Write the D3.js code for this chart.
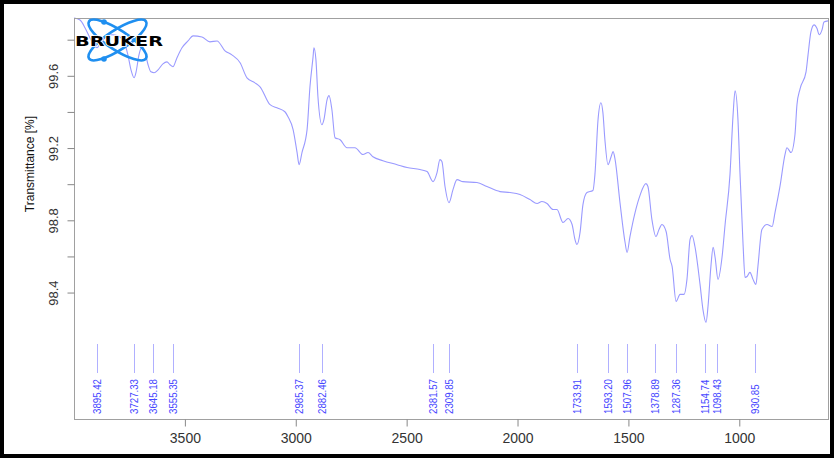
<!DOCTYPE html>
<html>
<head>
<meta charset="utf-8">
<script src="https://cdn.jsdelivr.net/npm/d3@7/dist/d3.min.js"></script>
<style>
  html, body { margin: 0; padding: 0; background: #fff; }
  svg { display: block; }
</style>
</head>
<body>
<svg id="chart" width="835" height="459"></svg>
<script>
// ---- Data ----
const wavenumbers = [4000,3973,3950,3928,3910,3896,3883,3860,3829,3802,3775,3757,3743,3729,3720,3707,3693,3680,3666,3653,3639,3621,3599,3581,3567,3554,3536,3513,3486,3463,3423,3387,3355,3319,3288,3251,3220,3184,3161,3116,3085,3049,3035,3012,2994,2985,2972,2949,2936,2922,2918,2909,2900,2882,2873,2859,2850,2837,2823,2800,2769,2733,2697,2674,2652,2607,2543,2498,2440,2408,2381,2363,2350,2341,2327,2309,2291,2273,2246,2183,2138,2079,2034,1989,1944,1912,1890,1867,1840,1822,1795,1772,1754,1741,1732,1718,1705,1687,1660,1651,1637,1624,1615,1606,1592,1578,1569,1560,1538,1515,1506,1493,1470,1448,1421,1412,1394,1376,1362,1349,1330,1312,1303,1285,1267,1249,1236,1222,1213,1200,1177,1164,1150,1141,1128,1118,1109,1096,1078,1064,1042,1028,1019,1006,997,983,974,965,952,938,925,916,898,875,852,839,816,794,785,767,749,740,726,699,690,677,663,649,640,627,618,600];
const transmittance = [99.920,99.909,99.865,99.810,99.771,99.755,99.777,99.810,99.827,99.821,99.788,99.716,99.633,99.589,99.622,99.716,99.760,99.733,99.661,99.622,99.617,99.633,99.666,99.677,99.661,99.650,99.699,99.755,99.793,99.821,99.815,99.788,99.793,99.738,99.716,99.672,99.589,99.561,99.539,99.440,99.423,99.401,99.373,99.302,99.175,99.108,99.175,99.302,99.539,99.705,99.755,99.688,99.484,99.329,99.357,99.467,99.490,99.412,99.257,99.246,99.202,99.202,99.164,99.175,99.152,99.130,99.108,99.092,99.081,99.070,99.014,99.064,99.136,99.125,98.987,98.898,98.970,99.025,99.014,99.009,98.987,98.959,98.954,98.943,98.915,98.893,98.904,98.893,98.860,98.860,98.788,98.810,98.777,98.694,98.666,98.733,98.887,98.954,98.965,99.053,99.357,99.451,99.396,99.246,99.108,99.152,99.180,99.136,98.898,98.677,98.622,98.710,98.843,98.937,99.003,98.987,98.804,98.710,98.749,98.777,98.738,98.583,98.545,98.351,98.390,98.390,98.473,98.694,98.716,98.655,98.445,98.307,98.235,98.324,98.545,98.650,98.594,98.473,98.594,98.777,99.053,99.385,99.517,99.357,99.064,98.666,98.484,98.489,98.512,98.473,98.445,98.545,98.749,98.777,98.766,98.843,98.992,99.164,99.202,99.175,99.274,99.440,99.528,99.622,99.716,99.843,99.882,99.860,99.827,99.854,99.898,99.904];
const peakLabels = [3895.42,3727.33,3645.18,3555.35,2985.37,2882.46,2381.57,2309.85,1733.91,1593.20,1507.96,1378.89,1287.36,1154.74,1098.43,930.85];
const xTicks = [3500,3000,2500,2000,1500,1000];
const yTicks = [99.8,99.6,99.4,99.2,99.0,98.8,98.6,98.4];
const yLabeled = [99.6,99.2,98.8,98.4];

// ---- Layout ----
const svg = d3.select("#chart");
const L = 74, T = 18, R = 828, B = 419;

const x = d3.scaleLinear().domain([4000, 600]).range([L, R]);
const y = d3.scaleLinear().domain([97.70, 99.92]).range([B, T]);

// outer black frame
svg.append("rect").attr("x", 2).attr("y", 2).attr("width", 830).attr("height", 454)
  .attr("fill", "none").attr("stroke", "#000").attr("stroke-width", 4);

// spectrum line
const data = wavenumbers.map((w, i) => ({ w, t: transmittance[i] }));
const line = d3.line().x(d => x(d.w)).y(d => y(d.t)).curve(d3.curveMonotoneX);
svg.append("path").datum(data).attr("d", line)
  .attr("fill", "none").attr("stroke", "#9a9aff").attr("stroke-width", 1.1);

// peak markers
const peaks = svg.append("g");
peaks.selectAll("line").data(peakLabels).join("line")
  .attr("x1", d => Math.round(x(d)) + 0.5).attr("x2", d => Math.round(x(d)) + 0.5)
  .attr("y1", 344).attr("y2", 373)
  .attr("stroke", "#b0b0ff").attr("stroke-width", 1);
peaks.selectAll("text").data(peakLabels).join("text")
  .attr("transform", d => `translate(${x(d) + 4},414) rotate(-90) scale(0.88,1)`)
  .attr("text-anchor", "start")
  .attr("font-family", "Liberation Sans, Arial, sans-serif")
  .attr("font-size", 11)
  .attr("fill", "#4646ff")
  .text(d => d.toFixed(2));

// plot box
svg.append("rect").attr("x", L + 0.5).attr("y", T + 0.5).attr("width", R - L).attr("height", B - T)
  .attr("fill", "none").attr("stroke", "#a0a0a0").attr("stroke-width", 1);

// x axis
const xAxis = svg.append("g").attr("transform", `translate(0,${B + 0.5})`)
  .call(d3.axisBottom(x).tickValues(xTicks).tickSize(7).tickPadding(7).tickFormat(d3.format("d")));
xAxis.select(".domain").remove();
xAxis.selectAll(".tick line").attr("stroke", "#888");
xAxis.selectAll(".tick text").attr("font-family", "Liberation Sans, Arial, sans-serif")
  .attr("font-size", 14).attr("fill", "#333");

// y axis
const yAxis = svg.append("g").attr("transform", `translate(${L + 0.5},0)`)
  .call(d3.axisLeft(y).tickValues(yTicks).tickSize(7)
    .tickFormat(d => yLabeled.some(v => Math.abs(v - d) < 1e-6) ? d.toFixed(1) : ""));
yAxis.select(".domain").remove();
yAxis.selectAll(".tick line").attr("stroke", "#888");
yAxis.selectAll(".tick text")
  .attr("transform", "rotate(-90)")
  .attr("x", 0).attr("y", -17).attr("dy", null)
  .attr("text-anchor", "middle")
  .attr("font-family", "Liberation Sans, Arial, sans-serif")
  .attr("font-size", 13).attr("fill", "#333");

// y title
svg.append("text").attr("transform", "translate(34,164) rotate(-90)")
  .attr("text-anchor", "middle")
  .attr("font-family", "Liberation Sans, Arial, sans-serif")
  .attr("font-size", 12).attr("fill", "#111")
  .text("Transmittance [%]");

// Bruker logo
const logo = svg.append("g");
[33, -33].forEach(a => {
  logo.append("ellipse").attr("cx", 0).attr("cy", 0).attr("rx", 34).attr("ry", 10)
    .attr("transform", `translate(117.5,40) rotate(${a})`)
    .attr("fill", "none").attr("stroke", "#1f8ff0").attr("stroke-width", 2.6);
});
[[104, 22], [104, 59]].forEach(p => {
  logo.append("circle").attr("cx", p[0]).attr("cy", p[1]).attr("r", 2.8).attr("fill", "#1f8ff0");
});
logo.append("text").attr("x", 75).attr("y", 45.5)
  .attr("textLength", 88).attr("lengthAdjust", "spacingAndGlyphs")
  .attr("font-family", "DejaVu Sans, sans-serif").attr("font-weight", "bold")
  .attr("font-size", 14).attr("fill", "#000")
  .attr("stroke", "#fff").attr("stroke-width", 1.5).attr("paint-order", "stroke")
  .text("BRUKER");
</script>
</body>
</html>
